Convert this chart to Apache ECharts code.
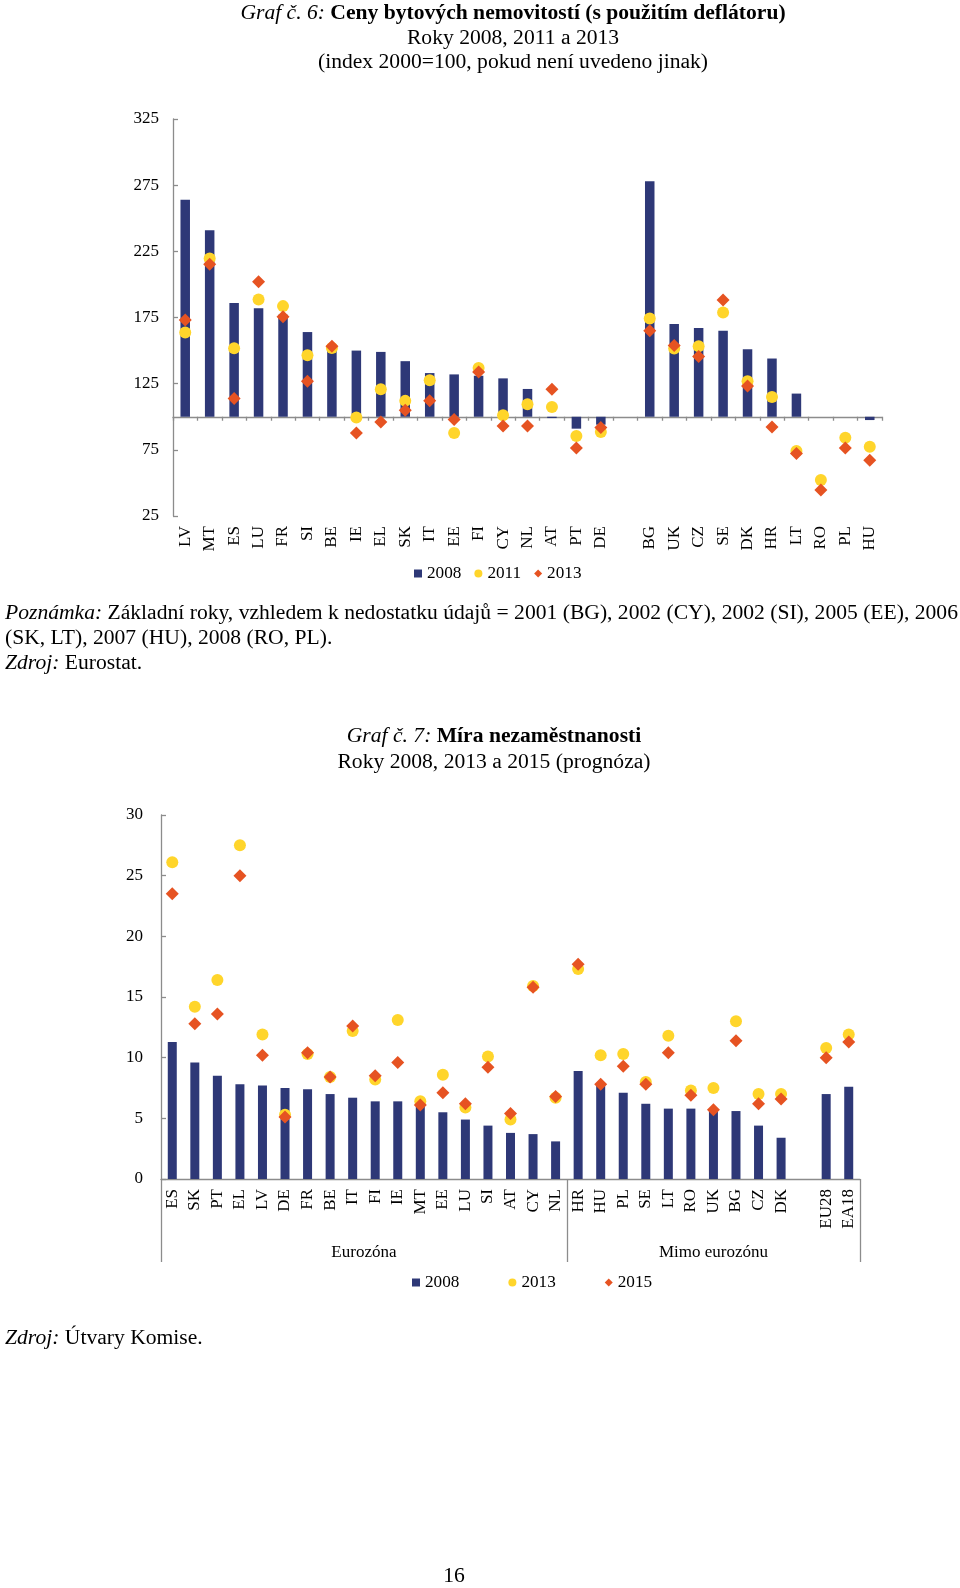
<!DOCTYPE html>
<html>
<head>
<meta charset="utf-8">
<script src="https://cdn.jsdelivr.net/npm/echarts@6/dist/echarts.min.js"></script>
<style>
html,body{margin:0;padding:0;background:#fff;}
#c{width:960px;height:1588px;}
</style>
</head>
<body>
<div id="c"></div>
<script>
// ---- Chart 6 data: housing prices (index 2000=100) ----
const cats1 = ['LV','MT','ES','LU','FR','SI','BE','IE','EL','SK','IT','EE','FI','CY','NL','AT','PT','DE','','BG','UK','CZ','SE','DK','HR','LT','RO','PL','HU'];
const hp2008 = [264, 241, 186, 182, 177, 164, 152, 150, 149, 142, 133, 132, 131, 129, 121, 99, 91, 94, null, 278, 170, 167, 165, 151, 144, 117.5, 100, 100, 97.5];
const hp2011 = [163.6, 219.6, 151.8, 188.6, 183.6, 146.5, 152, 99.4, 120.8, 112, 127.6, 87.7, 136.9, 101.1, 109.4, 107.4, 85.5, 88.5, null, 174.2, 151.6, 153.3, 178.8, 126.8, 115, 74.2, 52.2, 84.2, 77.4];
const hp2013 = [173.2, 215.3, 113.7, 202, 175.5, 126.8, 153.3, 87.7, 96.1, 104.9, 112, 97.9, 133.9, 93.1, 93.1, 120.8, 76.4, 91.8, null, 164.9, 153.8, 145.5, 188.3, 123.3, 92.3, 72.2, 44.7, 76.4, 67.1];
const yTicks1 = {min: 25, max: 325, step: 50, base: 100};

// ---- Chart 7 data: unemployment rate ----
const cats2 = ['ES','SK','PT','EL','LV','DE','FR','BE','IT','FI','IE','MT','EE','LU','SI','AT','CY','NL','HR','HU','PL','SE','LT','RO','UK','BG','CZ','DK','','EU28','EA18'];
const ue2008 = [11.3, 9.6, 8.5, 7.8, 7.7, 7.5, 7.4, 7.0, 6.7, 6.4, 6.4, 6.0, 5.5, 4.9, 4.4, 3.8, 3.7, 3.1, 8.9, 7.8, 7.1, 6.2, 5.8, 5.8, 5.6, 5.6, 4.4, 3.4, null, 7.0, 7.6];
const ue2013 = [26.1, 14.2, 16.4, 27.5, 11.9, 5.3, 10.3, 8.4, 12.2, 8.2, 13.1, 6.4, 8.6, 5.9, 10.1, 4.9, 15.9, 6.7, 17.3, 10.2, 10.3, 8.0, 11.8, 7.3, 7.5, 13.0, 7.0, 7.0, null, 10.8, 11.9];
const ue2015 = [23.5, 12.8, 13.6, 25.0, 10.2, 5.1, 10.4, 8.4, 12.6, 8.5, 9.6, 6.1, 7.1, 6.2, 9.2, 5.4, 15.8, 6.8, 17.7, 7.8, 9.3, 7.8, 10.4, 6.9, 5.7, 11.4, 6.2, 6.6, null, 10.0, 11.3];
const groups2 = [{name: 'Eurozóna', start: 0, count: 18}, {name: 'Mimo eurozónu', start: 18, count: 13}];

// ---- styling ----
const FONT = 'Liberation Serif';
const NAVY = '#2E3877', YELLOW = '#FFD52B', ORANGE = '#E65322', AXIS = '#8C8C8C';
const LBL = 17;
const TITLE = 21.6, NOTE = 21.6;

const shift = (arr, b) => arr.map(v => v == null ? null : +(v - b).toFixed(3));

// group label axis data (centered within each group)
const groupAxisData = cats2.map(() => '');
const groupTickIdx = [];
groups2.forEach(g => {
  groupTickIdx.push(g.start);
  const mid = g.start + (g.count - 1) / 2;
  const idx = Math.floor(mid);
  const half = mid - idx; // 0 or 0.5 band
  groupAxisData[idx] = half > 0
    ? {value: g.name, textStyle: {padding: [0, 0, 0, 22.5 * 2 * half]}}
    : g.name;
});

const chart = echarts.init(document.getElementById('c'), null, {renderer: 'canvas'});

const txt = (x, y, text, opts) => Object.assign({
  type: 'text', x: x, y: y, silent: true,
  style: Object.assign({
    text: text, fontFamily: FONT, fontSize: TITLE, fill: '#000',
    align: 'left', verticalAlign: 'middle'
  }, opts || {})
});
const rich = (size) => ({
  i: {fontStyle: 'italic', fontFamily: FONT, fontSize: size, fill: '#000'},
  b: {fontWeight: 'bold', fontFamily: FONT, fontSize: size, fill: '#000'},
  n: {fontFamily: FONT, fontSize: size, fill: '#000'}
});

const option = {
  animation: false,
  backgroundColor: '#fff',
  textStyle: {fontFamily: FONT},
  graphic: [
    txt(513, 13, '{i|Graf č. 6:} {b|Ceny bytových nemovitostí (s použitím deflátoru)}', {align: 'center', rich: rich(TITLE)}),
    txt(513, 38, 'Roky 2008, 2011 a 2013', {align: 'center'}),
    txt(513, 62, '(index 2000=100, pokud není uvedeno jinak)', {align: 'center'}),
    txt(5, 613, '{i|Poznámka:} Základní roky, vzhledem k nedostatku údajů = 2001 (BG), 2002 (CY), 2002 (SI), 2005 (EE), 2006', {rich: rich(NOTE), fontSize: NOTE}),
    txt(5, 638, '(SK, LT), 2007 (HU), 2008 (RO, PL).', {fontSize: NOTE}),
    txt(5, 663, '{i|Zdroj:} Eurostat.', {rich: rich(NOTE), fontSize: NOTE}),
    txt(494, 736, '{i|Graf č. 7:} {b|Míra nezaměstnanosti}', {align: 'center', rich: rich(TITLE)}),
    txt(494, 762, 'Roky 2008, 2013 a 2015 (prognóza)', {align: 'center'}),
    txt(5, 1338, '{i|Zdroj:} Útvary Komise.', {rich: rich(NOTE), fontSize: NOTE}),
    txt(454, 1576, '16', {align: 'center'})
  ],
  legend: [
    {
      left: 414, top: 565, padding: 0, itemWidth: 8, itemHeight: 8, itemGap: 13,
      textStyle: {fontFamily: FONT, fontSize: 17.2, color: '#000'},
      selectedMode: false,
      data: [
        {name: '2008', icon: 'rect'},
        {name: '2011', icon: 'circle', itemStyle: {color: YELLOW}},
        {name: '2013', icon: 'diamond', itemStyle: {color: ORANGE}}
      ]
    },
    {
      left: 412, top: 1274, padding: 0, itemWidth: 8, itemHeight: 8, itemGap: 49,
      textStyle: {fontFamily: FONT, fontSize: 17.2, color: '#000'},
      selectedMode: false,
      data: [
        {name: '2008', icon: 'rect', itemStyle: {color: NAVY}},
        {name: '2013', icon: 'circle', itemStyle: {color: YELLOW}},
        {name: '2015', icon: 'diamond', itemStyle: {color: ORANGE}}
      ]
    }
  ],
  grid: [
    {left: 173, top: 119, width: 709, height: 397, containLabel: false},
    {left: 161, top: 815, width: 699, height: 364, containLabel: false}
  ],
  xAxis: [
    { // chart 1 baseline at 100 with ticks
      type: 'category', gridIndex: 0, data: cats1, position: 'bottom',
      axisLine: {show: true, onZero: true, lineStyle: {color: AXIS, width: 1.3}},
      axisTick: {show: true, interval: 0, length: 4, lineStyle: {color: AXIS, width: 1.3}},
      axisLabel: {show: false}, splitLine: {show: false}
    },
    { // chart 1 labels at bottom
      type: 'category', gridIndex: 0, data: cats1, position: 'bottom',
      axisLine: {show: false, onZero: false}, axisTick: {show: false},
      axisLabel: {interval: 0, rotate: 90, margin: 10, fontSize: LBL, fontFamily: FONT, color: '#000'},
      splitLine: {show: false}
    },
    { // chart 2 category axis
      type: 'category', gridIndex: 1, data: cats2, position: 'bottom',
      axisLine: {show: true, onZero: false, lineStyle: {color: AXIS, width: 1.3}},
      axisTick: {show: false},
      axisLabel: {interval: 0, rotate: 90, margin: 10, fontSize: LBL, fontFamily: FONT, color: '#000'},
      splitLine: {show: false}
    },
    { // chart 2 group brackets
      type: 'category', gridIndex: 1, data: groupAxisData, position: 'bottom',
      axisLine: {show: false, onZero: false},
      axisTick: {show: true, length: 83, interval: (i) => groupTickIdx.indexOf(i) >= 0, lineStyle: {color: AXIS, width: 1.3}},
      axisLabel: {interval: 0, margin: 65, fontSize: LBL, fontFamily: FONT, color: '#000'},
      splitLine: {show: false}
    }
  ],
  yAxis: [
    {
      type: 'value', gridIndex: 0,
      min: yTicks1.min - yTicks1.base, max: yTicks1.max - yTicks1.base, interval: yTicks1.step,
      axisLine: {show: true, lineStyle: {color: AXIS, width: 1.3}},
      axisTick: {show: true, inside: true, length: 5, lineStyle: {color: AXIS, width: 1.3}},
      axisLabel: {margin: 14, fontSize: LBL, fontFamily: FONT, color: '#000', formatter: v => String(Math.round(v + yTicks1.base))},
      splitLine: {show: false}
    },
    {
      type: 'value', gridIndex: 1, min: 0, max: 30, interval: 5,
      axisLine: {show: true, lineStyle: {color: AXIS, width: 1.3}},
      axisTick: {show: true, inside: true, length: 5, lineStyle: {color: AXIS, width: 1.3}},
      axisLabel: {margin: 18, fontSize: LBL, fontFamily: FONT, color: '#000'},
      splitLine: {show: false}
    }
  ],
  series: [
    {name: '2008', type: 'bar', xAxisIndex: 0, yAxisIndex: 0, data: shift(hp2008, yTicks1.base), barWidth: 9.5, itemStyle: {color: NAVY}},
    {name: '2011', type: 'scatter', xAxisIndex: 0, yAxisIndex: 0, data: shift(hp2011, yTicks1.base), symbol: 'circle', symbolSize: 12, itemStyle: {color: YELLOW, opacity: 1}},
    {name: '2013', type: 'scatter', xAxisIndex: 0, yAxisIndex: 0, data: shift(hp2013, yTicks1.base), symbol: 'diamond', symbolSize: 13, itemStyle: {color: ORANGE, opacity: 1}},
    {name: '2008', type: 'bar', xAxisIndex: 2, yAxisIndex: 1, data: ue2008, barWidth: 9, itemStyle: {color: NAVY}},
    {name: '2013', type: 'scatter', xAxisIndex: 2, yAxisIndex: 1, data: ue2013, symbol: 'circle', symbolSize: 12, itemStyle: {color: YELLOW, opacity: 1}},
    {name: '2015', type: 'scatter', xAxisIndex: 2, yAxisIndex: 1, data: ue2015, symbol: 'diamond', symbolSize: 13, itemStyle: {color: ORANGE, opacity: 1}}
  ]
};
chart.setOption(option);
</script>
</body>
</html>
